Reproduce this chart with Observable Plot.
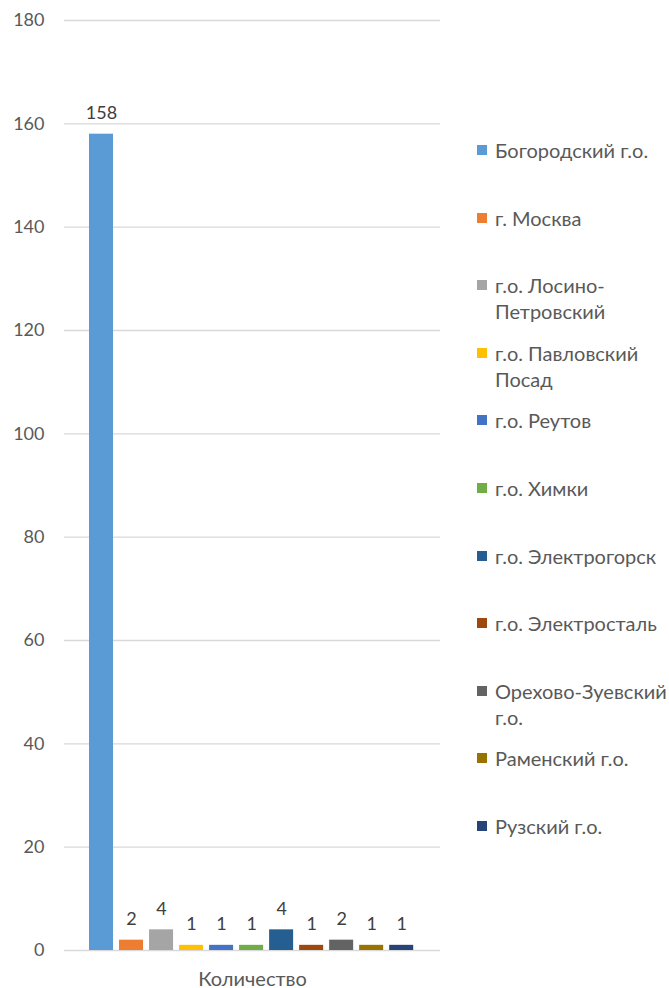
<!DOCTYPE html>
<html>
<head>
<meta charset="utf-8">
<script src="https://cdn.jsdelivr.net/npm/d3@7"></script>
<script src="https://cdn.jsdelivr.net/npm/@observablehq/plot@0.6"></script>
<style>
  body { margin: 0; background: #fff; font-family: Lato, "Open Sans", sans-serif; }
  #wrap { position: relative; width: 669px; height: 988px; }
  #chart { position: absolute; left: 0; top: 0; }
  .leg { position: absolute; left: 477px; width: 192px; font-size: 20px; line-height: 26px; color: #595959; }
  .leg .sw { position: absolute; left: 0; top: 8px; width: 10px; height: 10px; }
  .leg .lab { margin-left: 18px; white-space: nowrap; }
</style>
</head>
<body>
<div id="wrap"><div id="chart"></div></div>
<script>
const category = "Количество";
const series = ["Богородский г.о.", "г. Москва", "г.о. Лосино-Петровский", "г.о. Павловский Посад", "г.о. Реутов", "г.о. Химки", "г.о. Электрогорск", "г.о. Электросталь", "Орехово-Зуевский г.о.", "Раменский г.о.", "Рузский г.о."];
const legendLines = [["Богородский г.о."], ["г. Москва"], ["г.о. Лосино-", "Петровский"], ["г.о. Павловский", "Посад"], ["г.о. Реутов"], ["г.о. Химки"], ["г.о. Электрогорск"], ["г.о. Электросталь"], ["Орехово-Зуевский", "г.о."], ["Раменский г.о."], ["Рузский г.о."]];
const values = [158, 2, 4, 1, 1, 1, 4, 1, 2, 1, 1];
const colors = ["#5B9BD5", "#ED7D31", "#A5A5A5", "#FFC000", "#4472C4", "#70AD47", "#255E91", "#9E480E", "#636363", "#997300", "#264478"];
const yTicks = [0, 20, 40, 60, 80, 100, 120, 140, 160, 180];

const data = series.map((s, i) => ({cat: category, series: s, value: values[i]}));

const plot = Plot.plot({
  width: 460,
  height: 988,
  marginLeft: 64,
  marginRight: 20,
  marginTop: 20,
  marginBottom: 38,
  style: {fontFamily: "Lato, 'Open Sans', sans-serif", fontSize: "18px", color: "#595959", background: "#fff"},
  x: {domain: series, range: [83, 419.2], padding: 0.2, round: false, axis: null},
  y: {domain: [0, 180], ticks: yTicks, label: null},
  color: {domain: series, range: colors},
  marks: [
    Plot.ruleY(yTicks, {stroke: "#d9d9d9", strokeWidth: 1.3}),
    Plot.axisY({ticks: yTicks, tickSize: 0, tickPadding: 20, label: null, fill: "#595959", fontSize: 18}),
    Plot.text([category], {frameAnchor: "bottom", text: d => d, dy: 35, fill: "#595959", fontSize: 20}),
    Plot.barY(data, {x: "series", y: "value", fill: "series"}),
    Plot.text(data, {x: "series", y: "value", text: d => String(d.value), dy: -21, fill: "#404040", fontSize: 18})
  ]
});
document.getElementById("chart").appendChild(plot);

const wrap = document.getElementById("wrap");
legendLines.forEach((lines, i) => {
  const div = document.createElement("div");
  div.className = "leg";
  div.style.top = (150 + i * 67.6 - 13) + "px";
  const sw = document.createElement("span");
  sw.className = "sw";
  sw.style.background = colors[i];
  div.appendChild(sw);
  const lab = document.createElement("div");
  lab.className = "lab";
  lab.innerHTML = lines.map(l => l.replace(/&/g, "&amp;").replace(/</g, "&lt;")).join("<br>");
  div.appendChild(lab);
  wrap.appendChild(div);
});
</script>
</body>
</html>
